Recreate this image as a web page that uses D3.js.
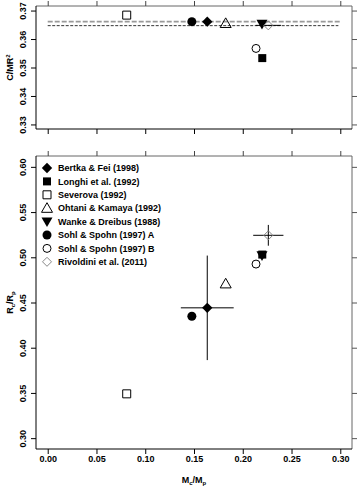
<!DOCTYPE html>
<html>
<head>
<meta charset="utf-8">
<script src="https://cdn.jsdelivr.net/npm/d3@7"></script>
<style>
  body { margin: 0; background: #fff; }
  svg { display: block; font-family: "Liberation Sans", Arial, sans-serif; font-weight: bold; }
  .axis text { font-size: 9px; font-weight: bold; fill: #000; }
</style>
</head>
<body>
<div id="chart"></div>
<script>
var width = 358,
    height = 487;

// data
var studies = ["Bertka & Fei (1998)", "Longhi et al. (1992)", "Severova (1992)", "Ohtani & Kamaya (1992)",
               "Wanke & Dreibus (1988)", "Sohl & Spohn (1997) A", "Sohl & Spohn (1997) B", "Rivoldini et al. (2011)"];
var coreMass = [0.1636, 0.2200, 0.0810, 0.1825, 0.2197, 0.1478, 0.2136, 0.2262];   // Mc/Mp
var moment = [0.3661, 0.3533, 0.3684, 0.3655, 0.3653, 0.3661, 0.3567, 0.3648];      // C/MR^2
var coreRadius = [0.4441, 0.5030, 0.3490, 0.4707, 0.5021, 0.4348, 0.4925, 0.5243];  // Rc/Rp
var massErr = [0.0271, 0, 0, 0, 0, 0, 0, 0.0155];
var radiusErr = [0.0578, 0, 0, 0, 0, 0, 0, 0.0115];
var momentErr = [0, 0, 0, 0, 0, 0, 0, 0.0130];  // horizontal bar in top panel (Mc/Mp)

var momentLines = [0.3661, 0.3647];
var xTicks = [0, 0.05, 0.10, 0.15, 0.20, 0.25, 0.30];
var topTicks = [0.33, 0.34, 0.35, 0.36, 0.37];
var bottomTicks = [0.30, 0.35, 0.40, 0.45, 0.50, 0.55, 0.60];

// symbol per study: shape, fill, stroke, size(px)
var markers = [
  {shape: "diamond", fill: "#000", stroke: "none", r: 5.2},
  {shape: "square", fill: "#000", stroke: "none", r: 4},
  {shape: "square", fill: "#fff", stroke: "#000", r: 4},
  {shape: "triangle", fill: "none", stroke: "#000", r: 5.5},
  {shape: "down", fill: "#000", stroke: "none", r: 5.5},
  {shape: "circle", fill: "#000", stroke: "none", r: 4.5},
  {shape: "circle", fill: "#fff", stroke: "#000", r: 4},
  {shape: "diamond", fill: "none", stroke: "#888", r: 4.5}
];

function markerPath(m) {
  var r = m.r;
  if (m.shape == "diamond") return "M0," + (-r) + "L" + r + ",0L0," + r + "L" + (-r) + ",0Z";
  if (m.shape == "square") return "M" + (-r) + "," + (-r) + "h" + 2 * r + "v" + 2 * r + "h" + (-2 * r) + "Z";
  if (m.shape == "triangle") return "M0," + (-r) + "L" + r + "," + r * 0.75 + "L" + (-r) + "," + r * 0.75 + "Z";
  if (m.shape == "down") return "M0," + r + "L" + r + "," + (-r * 0.75) + "L" + (-r) + "," + (-r * 0.75) + "Z";
  return d3.arc().innerRadius(0).outerRadius(r).startAngle(0).endAngle(2 * Math.PI)();
}

var svg = d3.select("#chart").append("svg")
    .attr("width", width)
    .attr("height", height);

var left = 36, right = 352;

var x = d3.scaleLinear()
    .domain([-0.012, 0.312])
    .range([left, right]);

var yTop = d3.scaleLinear()
    .domain([0.3284, 0.3716])
    .range([129, 6]);

var yBottom = d3.scaleLinear()
    .domain([0.288, 0.612])
    .range([449, 156]);

function drawFrame(y, ticks, showX) {
  var top = y.range()[1], bottom = y.range()[0];
  var g = svg.append("g");

  // top & right edges are grey, left & bottom black
  g.append("line").attr("x1", left).attr("x2", right).attr("y1", top).attr("y2", top).attr("stroke", "#666");
  g.append("line").attr("x1", right).attr("x2", right).attr("y1", top).attr("y2", bottom).attr("stroke", "#666");

  var bx = g.append("g").attr("class", "axis")
      .attr("transform", "translate(0," + bottom + ")")
      .call(d3.axisBottom(x).tickValues(xTicks).tickSize(5).tickSizeOuter(0)
        .tickFormat(showX ? d3.format(".2f") : ""));
  bx.select(".domain").attr("d", "M" + left + ",0H" + right);
  bx.selectAll("text").attr("dy", "0.55em").attr("y", 8);

  var tx = g.append("g").attr("class", "axis")
      .attr("transform", "translate(0," + top + ")")
      .call(d3.axisTop(x).tickValues(xTicks).tickSize(5).tickFormat(""));
  tx.select(".domain").remove();
  tx.selectAll("line").attr("stroke", "#444");

  var ly = g.append("g").attr("class", "axis")
      .attr("transform", "translate(" + left + ",0)")
      .call(d3.axisLeft(y).tickValues(ticks).tickSize(5).tickFormat(d3.format(".2f")));
  ly.select(".domain").attr("d", "M0," + top + "V" + bottom);
  ly.selectAll("text")
      .attr("x", 0).attr("dy", 0)
      .attr("text-anchor", "middle")
      .attr("transform", "translate(-10,0)rotate(-90)");

  var ry = g.append("g").attr("class", "axis")
      .attr("transform", "translate(" + right + ",0)")
      .call(d3.axisRight(y).tickValues(ticks).tickSize(5).tickFormat(""));
  ry.select(".domain").remove();
  ry.selectAll("line").attr("stroke", "#555");
}

drawFrame(yTop, topTicks, false);
drawFrame(yBottom, bottomTicks, true);

// reference lines in the top panel
svg.append("line")
    .attr("x1", x(0)).attr("x2", x(0.30))
    .attr("y1", yTop(momentLines[0])).attr("y2", yTop(momentLines[0]))
    .attr("stroke", "#999").attr("stroke-width", 1.6).attr("stroke-dasharray", "5,2");
svg.append("line")
    .attr("x1", x(0)).attr("x2", x(0.298))
    .attr("y1", yTop(momentLines[1])).attr("y2", yTop(momentLines[1]))
    .attr("stroke", "#000").attr("stroke-width", 0.8).attr("stroke-dasharray", "3,1.5");

// error bars
var errTop = svg.append("g");
studies.forEach(function(s, i) {
  if (momentErr[i] > 0) {
    errTop.append("line")
        .attr("x1", x(coreMass[i] - momentErr[i])).attr("x2", x(coreMass[i] + momentErr[i]))
        .attr("y1", yTop(moment[i])).attr("y2", yTop(moment[i]))
        .attr("stroke", "#000");
  }
});
var errBottom = svg.append("g");
studies.forEach(function(s, i) {
  if (massErr[i] > 0) {
    errBottom.append("line")
        .attr("x1", x(coreMass[i] - massErr[i])).attr("x2", x(coreMass[i] + massErr[i]))
        .attr("y1", yBottom(coreRadius[i])).attr("y2", yBottom(coreRadius[i]))
        .attr("stroke", "#000");
    errBottom.append("line")
        .attr("x1", x(coreMass[i])).attr("x2", x(coreMass[i]))
        .attr("y1", yBottom(coreRadius[i] - radiusErr[i])).attr("y2", yBottom(coreRadius[i] + radiusErr[i]))
        .attr("stroke", "#000");
  }
});

// points, drawn in legend order
var drawOrder = [2, 1, 6, 3, 5, 0, 4, 7];
function drawPoints(y, values) {
  svg.append("g").selectAll("path")
      .data(drawOrder)
    .enter().append("path")
      .attr("d", function(i) { return markerPath(markers[i]); })
      .attr("transform", function(i) { return "translate(" + x(coreMass[i]) + "," + y(values[i]) + ")"; })
      .attr("fill", function(i) { return markers[i].fill; })
      .attr("stroke", function(i) { return markers[i].stroke; })
      .attr("stroke-width", 1);
}
drawPoints(yTop, moment);
drawPoints(yBottom, coreRadius);

// legend
var legend = svg.append("g").attr("transform", "translate(47,168)");
var item = legend.selectAll("g")
    .data(studies)
  .enter().append("g")
    .attr("transform", function(d, i) { return "translate(0," + i * 13.4 + ")"; });
item.append("path")
    .attr("d", function(d, i) { return markerPath(markers[i]); })
    .attr("fill", function(d, i) { return markers[i].fill; })
    .attr("stroke", function(d, i) { return markers[i].stroke; });
item.append("text")
    .attr("x", 11)
    .attr("dy", "0.35em")
    .style("font-size", "9px")
    .text(function(d) { return d; });

// axis titles
var t1 = svg.append("text")
    .attr("transform", "translate(13," + (yTop.range()[0] + yTop.range()[1]) / 2 + ")rotate(-90)")
    .attr("text-anchor", "middle")
    .style("font-size", "9px");
t1.append("tspan").text("C/MR");
t1.append("tspan").attr("dy", -3).style("font-size", "6px").text("2");

var t2 = svg.append("text")
    .attr("transform", "translate(13," + (yBottom.range()[0] + yBottom.range()[1]) / 2 + ")rotate(-90)")
    .attr("text-anchor", "middle")
    .style("font-size", "9px");
t2.append("tspan").text("R");
t2.append("tspan").attr("dy", 2).style("font-size", "6px").text("c");
t2.append("tspan").attr("dy", -2).text("/R");
t2.append("tspan").attr("dy", 2).style("font-size", "6px").text("p");

var t3 = svg.append("text")
    .attr("x", (left + right) / 2)
    .attr("y", 483)
    .attr("text-anchor", "middle")
    .style("font-size", "9px");
t3.append("tspan").text("M");
t3.append("tspan").attr("dy", 2).style("font-size", "6px").text("c");
t3.append("tspan").attr("dy", -2).text("/M");
t3.append("tspan").attr("dy", 2).style("font-size", "6px").text("p");
</script>
</body>
</html>
